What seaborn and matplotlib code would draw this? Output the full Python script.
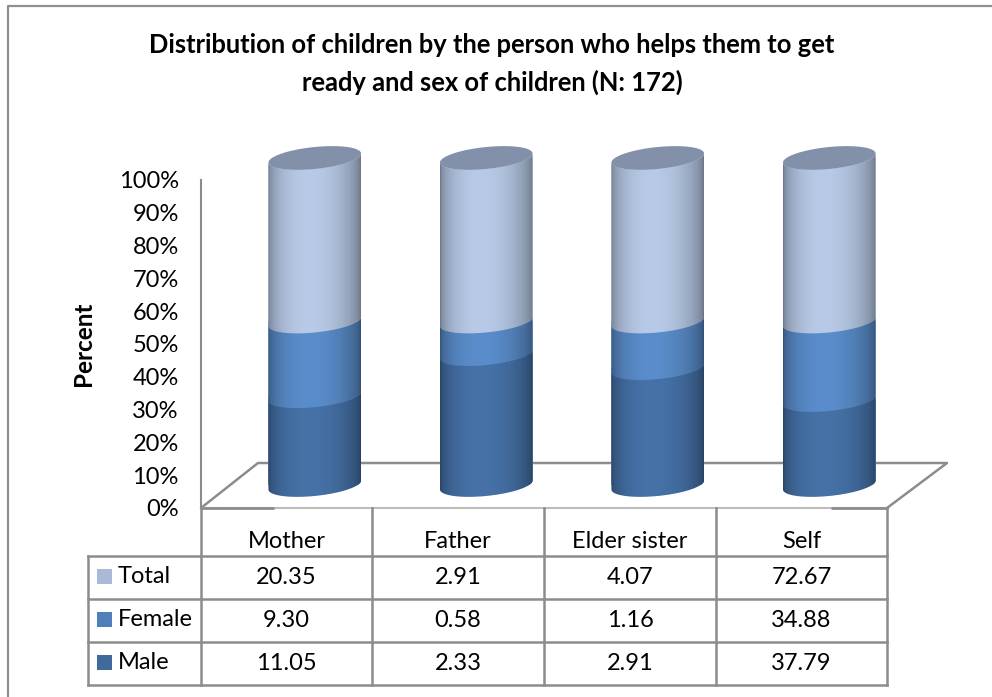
import numpy as np
import pandas as pd
import matplotlib
matplotlib.use("Agg")
import matplotlib.pyplot as plt
from matplotlib.path import Path
from matplotlib.patches import PathPatch, Rectangle
from matplotlib.colors import to_rgb
import seaborn as sns

categories = ["Mother", "Father", "Elder sister", "Self"]
male = [11.05, 2.33, 2.91, 37.79]
female = [9.30, 0.58, 1.16, 34.88]
total = [20.35, 2.91, 4.07, 72.67]
series_names = ["Total", "Female", "Male"]
table_text = {"Total": ["20.35", "2.91", "4.07", "72.67"],
              "Female": ["9.30", "0.58", "1.16", "34.88"],
              "Male": ["11.05", "2.33", "2.91", "37.79"]}
colors = {"Total": "#B8CAE7", "Female": "#5A8DCB", "Male": "#4672A8"}
swatch = {"Total": "#A9BAD8", "Female": "#5080BC", "Male": "#406A9C"}
title = "Distribution of children by the person who helps them to get\nready and sex of children (N: 172)"

W, H = 992, 697
sns.set_theme(style="white")
plt.rcParams["font.family"] = ["Lato", "DejaVu Sans"]
fig = plt.figure(figsize=(W / 100, H / 100), dpi=100, facecolor="white")
GRID = "#8C8C8C"
FS = 17

def axes_px(l, t, r, b, **kw):
    return fig.add_axes([l / W, 1 - b / H, (r - l) / W, (b - t) / H], **kw)

# full-figure layer in pixel coordinates: frame, floor, table
bg = axes_px(0, 0, W, H)
bg.set_xlim(0, W); bg.set_ylim(H, 0); bg.axis("off")
bg.plot([7.5, 7.5, W], [H, 6, 6], color="#8F8F8F", lw=1.6)
bg.plot([201, 258, 947, 887], [508, 463, 463, 508], color=GRID, lw=1.8)
bg.plot([201, 887], [508, 508], color="#BDBDBD", lw=1.5)
bg.plot([201, 273], [508, 508], color=GRID, lw=2)
bg.plot([832, 887], [508, 508], color=GRID, lw=2)

cols = [201, 372, 544, 716, 887]
rows = [556, 599, 642, 685]
for x in cols:
    bg.plot([x, x], [508, 685], color=GRID, lw=1.8, solid_capstyle="projecting")
for y in rows:
    bg.plot([88, 887], [y, y], color=GRID, lw=1.8, solid_capstyle="projecting")
bg.plot([88, 88], [556, 685], color=GRID, lw=1.8, solid_capstyle="projecting")
for i, c in enumerate(categories):
    bg.text((cols[i] + cols[i + 1]) / 2, 541, c, ha="center", va="center", fontsize=FS, color="black")
for j, name in enumerate(series_names):
    yc = (rows[j] + rows[j + 1]) / 2
    bg.add_patch(Rectangle((97, yc - 9), 15, 15, facecolor=swatch[name], edgecolor="none"))
    bg.text(118, yc - 1, name, ha="left", va="center", fontsize=FS, color="black")
    for i, val in enumerate(table_text[name]):
        bg.text((cols[i] + cols[i + 1]) / 2, yc, val, ha="center", va="center", fontsize=FS, color="black")
bg.text(492, 64, title, ha="center", va="center", fontsize=18.4, fontweight="bold",
        color="black", linespacing=1.57)

# value axis
ax = axes_px(201, 180, 887, 508, facecolor="none")
ax.set_xlim(0, 1); ax.set_ylim(0, 100)
ax.set_yticks(range(0, 101, 10))
ax.set_yticklabels([f"{v}%" for v in range(0, 101, 10)], fontsize=FS, color="black")
ax.set_xticks([])
ax.tick_params(axis="y", length=0, pad=16)
sns.despine(ax=ax, left=False, bottom=True, top=True, right=True)
ax.spines["left"].set_color(GRID); ax.spines["left"].set_linewidth(1.5)
ax.set_ylabel("Percent", fontsize=17.5, fontweight="bold", color="black", labelpad=17)

# cylinders: stacked percentage bars in an axes shifted onto the back-leaning plane
frame = pd.DataFrame({"category": categories, "Male": male, "Female": female, "Total": total})
sums = frame[["Male", "Female", "Total"]].sum(axis=1)
pct = frame[["Male", "Female", "Total"]].div(sums, axis=0) * 100
cum = pct.cumsum(axis=1)
cum["category"] = categories

PAD = 10
PX_PER_PCT = 3.27
BASE_Y = 485
cyl = axes_px(229, BASE_Y - (100 + PAD) * PX_PER_PCT, 915, BASE_Y + PAD * PX_PER_PCT, facecolor="none")
cyl.set_ylim(-PAD, 100 + PAD)
for name in ["Total", "Female", "Male"]:
    sns.barplot(data=cum, x="category", y=name, order=categories, width=0.54,
                color=colors[name], saturation=1, ax=cyl, zorder=1, edgecolor="none")
cyl.set_xlim(-0.5, 3.5)
cyl.axis("off")

A_H = 11.0 / PX_PER_PCT    # ellipse half height
A_S = 4.5 / PX_PER_PCT     # ellipse tilt
t = np.linspace(0, 2 * np.pi, 200)

def shade(color, lo=0.55, hi=1.0):
    u = np.linspace(0, 1, 256)
    f = lo + (hi - lo) * np.clip(np.sin(np.pi * u ** 0.85), 0, 1) ** 0.5
    return np.outer(f, to_rgb(color)).reshape(1, 256, 3)

def rim(xc, half, y):
    tt = np.linspace(np.pi, 0, 80)
    xs = xc + half * np.cos(tt)
    ys = y - A_H * np.sin(tt) + A_S * np.cos(tt)
    return xs, ys

def segment_path(xc, half, y0, y1):
    xl, yl = rim(xc, half, y0)
    xu, yu = rim(xc, half, y1)
    verts = np.r_[np.c_[xl, yl], np.c_[xu[::-1], yu[::-1]], [[xl[0], yl[0]]]]
    return Path(verts, closed=False)

half = 0.27
for bar in cyl.patches:
    xc = bar.get_x() + bar.get_width() / 2
    outline = PathPatch(segment_path(xc, half, 0, 100), transform=cyl.transData)
    bar.set_clip_path(outline)

for i in range(4):
    xc = i
    lows = [0, cum["Male"][i], cum["Female"][i]]
    highs = [cum["Male"][i], cum["Female"][i], cum["Total"][i]]
    for name, y0, y1 in zip(["Male", "Female", "Total"], lows, highs):
        im = cyl.imshow(shade(colors[name]), extent=[xc - half, xc + half, -PAD, 100 + PAD],
                        aspect="auto", zorder=3 + y0 / 100, interpolation="bilinear")
        im.set_clip_path(PathPatch(segment_path(xc, half, y0, y1), transform=cyl.transData))
    top = np.c_[xc + half * np.cos(t), 100 + A_H * np.sin(t) + A_S * np.cos(t)]
    cyl.fill(top[:, 0], top[:, 1], color="#8290A9", lw=0, zorder=5)
cyl.set_xlim(-0.5, 3.5)
cyl.set_ylim(-PAD, 100 + PAD)

fig.savefig("out.png", dpi=100)
